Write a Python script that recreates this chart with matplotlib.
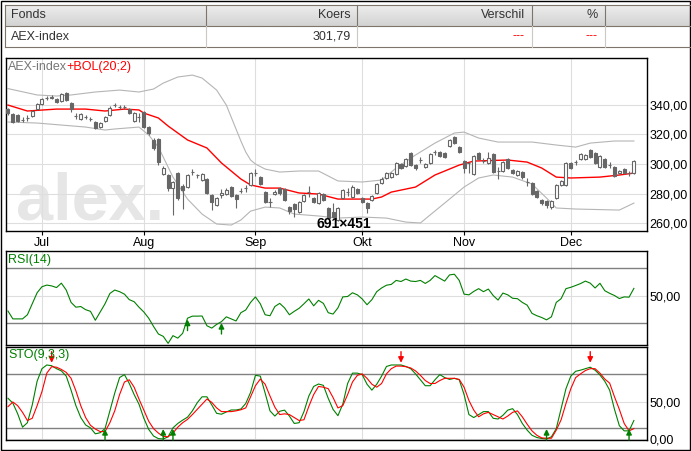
import matplotlib
matplotlib.use('Agg')
import matplotlib.pyplot as plt
import numpy as np
from matplotlib.colors import LinearSegmentedColormap
from matplotlib.patches import Rectangle
from matplotlib.ticker import FuncFormatter

plt.rcParams['font.family'] = ['Liberation Sans', 'DejaVu Sans']

# koersdata AEX-index (dagkaarsen)
opens = [337.0, 333.7, 333.0, 329.8, 330.8, 332.3, 337.0, 340.4, 344.2, 344.8,
         343.8, 342.5, 347.8, 341.1, 332.5, 330.3, 331.4, 330.5, 328.3, 324.9,
         329.0, 333.0, 339.7, 338.4, 338.6, 337.0, 329.0, 331.4, 335.0, 324.9,
         316.2, 316.8, 293.3, 292.6, 283.8, 293.9, 285.2, 284.5, 294.6, 292.6,
         289.2, 289.9, 279.1, 272.4, 279.1, 279.8, 284.5, 279.1, 281.8, 283.8,
         285.9, 293.9, 291.2, 281.1, 274.6, 279.8, 283.8, 283.2, 271.0, 273.1,
         267.7, 275.1, 281.1, 277.1, 273.7, 279.8, 270.4, 267.7, 262.3, 277.1,
         281.1, 277.8, 283.2, 277.1, 273.7, 275.8, 280.5, 287.2, 290.6, 291.2,
         293.3, 300.0, 298.7, 307.4, 299.3, 302.7, 298.0, 300.7, 308.1, 308.1,
         307.4, 312.1, 318.2, 311.4, 302.0, 300.7, 293.3, 307.4, 302.0, 300.7,
         306.7, 295.3, 295.3, 303.4, 296.0, 292.6, 294.6, 287.9, 287.2, 281.8,
         275.8, 275.1, 271.0, 277.1, 285.9, 285.9, 300.7, 301.3, 303.4, 303.4,
         309.4, 307.4, 298.0, 303.4, 299.3, 298.0, 293.9, 296.6, 294.1, 293.9]
closes = [334.3, 328.6, 329.0, 329.5, 331.1, 335.7, 340.4, 343.8, 344.6, 345.1,
          341.8, 347.1, 343.1, 337.0, 332.3, 333.7, 331.6, 330.3, 324.2, 327.6,
          331.6, 337.7, 339.9, 338.6, 338.2, 334.3, 334.3, 331.8, 324.9, 320.9,
          310.8, 301.3, 297.3, 283.8, 287.9, 277.1, 282.5, 292.6, 294.8, 292.8,
          293.3, 280.5, 274.4, 277.1, 280.5, 282.5, 278.5, 276.4, 281.6, 284.0,
          293.9, 294.1, 286.5, 274.4, 274.4, 281.1, 280.5, 275.8, 268.3, 269.7,
          274.4, 279.1, 281.3, 274.4, 280.5, 275.8, 263.6, 264.3, 270.4, 282.5,
          281.3, 284.5, 280.5, 274.4, 270.4, 278.5, 286.5, 289.9, 293.9, 293.9,
          300.7, 297.3, 303.4, 299.3, 297.3, 302.9, 300.0, 306.7, 308.3, 305.4,
          304.7, 316.2, 314.1, 308.1, 297.3, 300.5, 305.4, 303.4, 302.2, 304.0,
          294.6, 295.5, 301.3, 297.3, 293.9, 295.3, 291.2, 287.7, 279.8, 277.8,
          273.7, 272.4, 275.1, 285.9, 288.6, 300.7, 297.3, 301.5, 306.7, 306.1,
          304.7, 300.7, 305.4, 298.0, 299.1, 291.9, 295.3, 293.9, 293.9, 301.8]
highs = [337.7, 334.5, 334.0, 331.6, 333.0, 336.5, 341.1, 344.6, 345.8, 346.5,
         344.8, 347.8, 348.4, 341.8, 334.3, 334.5, 333.0, 331.6, 329.0, 328.3,
         332.3, 339.1, 341.1, 339.7, 339.7, 337.7, 335.0, 334.3, 336.0, 325.6,
         317.5, 317.5, 298.7, 293.3, 288.6, 294.6, 286.5, 293.3, 296.6, 293.3,
         294.0, 290.6, 279.8, 277.8, 283.2, 283.8, 285.2, 279.8, 283.8, 285.9,
         294.6, 296.6, 291.9, 281.8, 277.1, 282.5, 284.5, 283.8, 271.7, 273.7,
         275.1, 279.8, 285.2, 277.8, 281.1, 280.5, 271.0, 273.7, 271.0, 283.2,
         283.8, 285.9, 283.8, 277.8, 274.4, 279.1, 287.2, 291.2, 294.6, 294.6,
         301.3, 300.7, 304.0, 308.1, 300.0, 304.7, 300.7, 307.4, 309.4, 308.8,
         308.1, 316.8, 318.8, 312.1, 302.7, 301.3, 306.1, 308.1, 304.0, 308.1,
         307.4, 298.0, 302.0, 304.0, 296.6, 296.0, 295.3, 290.6, 287.9, 282.5,
         276.4, 275.8, 275.8, 286.5, 289.2, 301.3, 301.3, 302.7, 307.4, 306.7,
         310.1, 308.1, 306.1, 304.0, 301.3, 298.7, 296.0, 297.3, 295.3, 302.7]
lows = [333.0, 327.5, 328.0, 328.3, 329.0, 331.5, 336.4, 339.5, 343.1, 343.8,
        341.1, 341.8, 342.5, 335.0, 330.3, 329.6, 330.3, 329.0, 323.5, 324.2,
        328.3, 332.3, 338.4, 337.0, 337.0, 333.7, 328.3, 328.3, 324.2, 319.5,
        309.4, 299.3, 292.6, 282.0, 265.7, 275.8, 269.7, 283.8, 292.6, 290.6,
        288.6, 279.8, 269.0, 271.7, 277.1, 279.1, 277.8, 270.4, 280.5, 281.1,
        285.2, 291.9, 285.9, 273.7, 271.0, 279.1, 279.1, 275.1, 266.3, 264.3,
        267.0, 274.4, 277.8, 273.7, 273.1, 275.1, 262.9, 263.6, 261.6, 276.4,
        278.5, 277.1, 279.8, 273.7, 267.0, 275.1, 279.8, 286.5, 289.9, 290.6,
        292.6, 296.6, 298.0, 298.7, 296.0, 300.7, 297.3, 300.0, 306.1, 304.7,
        304.0, 311.4, 313.4, 307.4, 293.9, 293.9, 292.6, 302.7, 300.7, 300.0,
        294.0, 289.9, 294.6, 296.6, 293.3, 291.9, 289.9, 285.2, 279.1, 277.1,
        272.4, 270.4, 269.7, 276.4, 285.2, 285.2, 296.6, 299.3, 302.7, 302.7,
        304.0, 300.0, 297.3, 297.3, 297.3, 291.2, 293.3, 293.3, 291.9, 293.3]

bol_mid_days = [0, 4, 10, 16, 20, 24, 27, 28, 31, 33, 37, 41, 44, 48, 50, 53, 56, 60,
                64, 68, 75, 77, 79, 84, 88, 93, 96, 103, 107, 110, 113, 116, 122, 126, 129]
bol_mid = [339.7, 335.7, 337.0, 337.0, 335.7, 337.0, 336.4, 334.3, 331.0, 325.6,
           316.2, 310.8, 300.7, 289.9, 285.9, 283.8, 283.8, 280.5, 279.8, 276.4,
           276.4, 277.8, 281.1, 284.5, 292.6, 299.3, 302.0, 302.7, 301.3, 297.3,
           291.2, 290.6, 291.2, 292.6, 293.9]
bol_up_days = [0, 6, 10, 13, 18, 23, 27, 30, 32, 35, 38, 40, 43, 45, 46, 48, 49, 50, 51,
               53, 56, 60, 64, 68, 73, 77, 80, 84, 88, 92, 94, 97, 101, 108, 113, 117,
               120, 125, 129]
bol_upper = [350.8, 346.5, 345.8, 346.5, 348.5, 349.8, 348.5, 350.5, 354.5, 358.6,
             359.9, 357.9, 349.8, 339.7, 331.6, 315.5, 308.1, 302.7, 300.0, 296.6,
             294.6, 295.3, 295.3, 288.6, 287.9, 289.2, 297.3, 306.1, 314.1, 320.9,
             321.5, 317.5, 314.8, 314.8, 312.8, 311.4, 314.1, 315.5, 315.5]
bol_lo_days = [0, 6, 16, 20, 22, 27, 29, 31, 34, 37, 40, 43, 46, 48, 50, 53, 56, 59,
               64, 68, 73, 78, 82, 85, 87, 90, 94, 97, 100, 104, 108, 111, 113, 117, 126, 129]
bol_lower = [328.3, 327.6, 324.9, 322.9, 323.6, 324.9, 319.5, 311.4, 291.2, 276.4,
             266.3, 259.6, 258.9, 262.3, 268.3, 271.0, 270.4, 266.3, 265.0, 263.6,
             264.3, 263.6, 260.9, 260.3, 265.7, 273.7, 284.5, 290.6, 292.6, 291.2,
             286.5, 277.1, 270.4, 269.7, 269.0, 273.7]

rsi = [38.7, 33.0, 33.0, 33.0, 36.0, 44.0, 52.0, 56.4, 57.6, 57.0,
       55.8, 59.0, 54.0, 45.0, 41.5, 42.0, 39.7, 38.5, 32.0, 38.0,
       44.0, 51.5, 54.0, 52.8, 51.0, 47.0, 45.5, 41.5, 38.0, 33.5,
       27.5, 22.0, 20.3, 15.2, 20.8, 19.0, 22.5, 33.5, 35.0, 35.0,
       35.1, 28.0, 26.3, 29.0, 31.0, 34.5, 33.0, 31.5, 37.5, 39.5,
       45.0, 49.0, 44.0, 36.0, 35.3, 42.0, 44.3, 41.0, 36.0, 38.5,
       40.7, 44.0, 47.5, 42.5, 46.5, 44.3, 37.5, 36.5, 41.0, 49.0,
       49.3, 52.0, 50.5, 47.5, 43.3, 47.0, 52.8, 55.5, 57.5, 58.1,
       61.0, 60.2, 62.0, 60.5, 60.2, 61.0, 58.8, 61.0, 64.5, 62.5,
       60.5, 65.0, 65.5, 61.0, 51.0, 50.5, 53.0, 55.0, 52.8, 54.7,
       50.0, 46.7, 51.8, 50.5, 48.0, 47.7, 45.0, 43.0, 37.0, 35.3,
       34.0, 32.3, 34.5, 45.0, 47.7, 55.0, 56.0, 57.3, 58.7, 60.5,
       59.0, 55.5, 58.9, 53.5, 51.6, 50.0, 47.8, 49.0, 48.8, 55.2]

sto_k = [55, 48.5, 34, 16, 22, 46, 78, 95, 100, 99,
         95, 92, 85, 66, 45, 29, 19, 15, 7, 8.5,
         14, 38, 62, 83, 87, 75, 60, 47, 28, 13,
         4, 0.5, 0, 3, 15, 21, 25.5, 29.5, 38, 49,
         57, 57, 46, 34.7, 33.5, 36.5, 39.2, 39.2, 40.5, 48,
         63, 86, 85, 62, 38, 31, 37.5, 39, 31, 21,
         22, 37, 58, 71, 74.3, 72.5, 55, 40, 31.5, 47,
         75, 89, 89, 87, 74, 66, 74, 85, 98, 100,
         100, 100, 98, 95, 88, 80, 72, 72, 80, 87,
         83, 80.5, 82, 80, 60, 33, 29, 33, 37, 37,
         28, 27, 32, 39, 41, 33, 21, 12, 5, 2,
         0.7, 0, 3, 14, 41, 68, 85, 91.5, 93, 95,
         97, 93, 86.5, 78, 66, 40, 18, 11, 11, 25]
sto_d = [43.7, 50, 45, 36, 25, 28, 45, 64, 89, 97.7,
         97, 94, 90, 82, 65, 45, 29, 18.5, 13.5, 10,
         10, 22, 38, 60, 77, 80, 70, 54, 39, 24,
         14, 8, 3.5, 3, 8, 16, 22, 26.5, 33, 40,
         47, 54, 49.5, 42, 37, 37, 37, 38, 39.5, 42,
         57, 72, 81, 74, 58, 43, 33, 34, 33, 29,
         25, 26, 44, 60, 71, 70, 68, 56, 42, 45,
         60, 77, 86, 88, 82, 74, 70, 75, 88, 95,
         98.5, 98.5, 97.7, 96, 92, 86, 79, 75, 75, 79,
         82, 82, 82, 80.5, 70, 52, 39, 30, 34, 36,
         33, 30, 27, 31, 36, 38, 30, 20, 11, 5,
         1.5, 1, 1, 12, 26, 48, 68, 83, 88, 92.5,
         95, 95, 89, 81, 75.5, 57, 40, 21, 11, 14]

rsi_buy_days = [37, 44]
sto_buy_days = [20, 32, 34, 111, 128]
sto_sell_days = [9, 81, 120]

month_days = [7, 28, 51, 73, 94, 116]
month_labels = ['Jul', 'Aug', 'Sep', 'Okt', 'Nov', 'Dec']
price_ticks = [260, 280, 300, 320, 340]

table_head = ['Fonds', 'Koers', 'Verschil', '%']
table_row = ['AEX-index', '301,79', '---', '---']

# ---- opmaak ----
W, H = 691, 451
GRID = '#dedede'
CANDLE = '#666666'
GREEN = '#008000'
LEVEL = '#808080'
fsize = 9


def px_box(x0, y0, x1, y1):
    return [x0 / W, 1 - y1 / H, (x1 - x0) / W, (y1 - y0) / H]


def comma_fmt(v, pos=None):
    return f'{v:.2f}'.replace('.', ',')


fig = plt.figure(figsize=(W / 100, H / 100), dpi=100)
fig.patch.set_facecolor('white')

# tabel bovenaan en rand, in pixelcoordinaten
bg = fig.add_axes([0, 0, 1, 1], zorder=-1)
hdr_cmap = LinearSegmentedColormap.from_list('hdr', ['#ededed', '#d3d3d3'])
bg.imshow(np.linspace(0, 1, 20)[:, None], cmap=hdr_cmap, extent=[5, 690, 26, 5], aspect='auto')
bg.set_xlim(0, W)
bg.set_ylim(H, 0)
bg.axis('off')
dark_line = '#7d746c'
light_line = '#cdc8c4'
for yy in (5, 26, 47):
    bg.plot([5, 690], [yy, yy], color=dark_line, lw=0.8)
bg.plot([5, 5], [5, 47], color=dark_line, lw=0.8)
col_edges = [206, 357, 532, 605]
for xx in col_edges:
    bg.plot([xx, xx], [5, 26], color=dark_line, lw=0.8)
    bg.plot([xx, xx], [26, 47], color=light_line, lw=0.8)
text_x = [11, 351, 525, 598]
aligns = ['left', 'right', 'right', 'right']
for k in range(4):
    bg.text(text_x[k], 15.5, table_head[k], ha=aligns[k], va='center', fontsize=9, color='#333333')
    col = '#ff0000' if table_row[k] == '---' else '#333333'
    bg.text(text_x[k], 36.5, table_row[k], ha=aligns[k], va='center', fontsize=9, color=col)
bg.add_patch(Rectangle((0.5, 0.5), W - 1.5, H - 1.5, fill=False, ec='black', lw=1.0))

ax_p = fig.add_axes(px_box(6, 58, 647, 231))
ax_r = fig.add_axes(px_box(6, 251, 647, 345))
ax_s = fig.add_axes(px_box(6, 347, 647, 440))

days = np.arange(len(closes))
x_lo, x_hi = -0.41, 131.7

for ax in (ax_p, ax_r, ax_s):
    ax.set_xlim(x_lo, x_hi)
    ax.set_xticks(month_days)
    ax.set_axisbelow(True)
    ax.grid(True, color=GRID, lw=0.8)
    for sp in ax.spines.values():
        sp.set_color('black')
        sp.set_linewidth(1.0)
    ax.yaxis.tick_right()
    ax.tick_params(axis='y', length=0, pad=2, labelsize=fsize)

# koersgrafiek
o = np.array(opens)
c = np.array(closes)
up = c >= o
ax_p.vlines(days, lows, highs, color=CANDLE, lw=0.8, zorder=2)
ax_p.bar(days[up], np.maximum(c - o, 0.15)[up], bottom=o[up], width=0.62,
         facecolor='white', edgecolor=CANDLE, lw=0.8, zorder=3)
ax_p.bar(days[~up], np.maximum(o - c, 0.15)[~up], bottom=c[~up], width=0.62,
         facecolor=CANDLE, edgecolor=CANDLE, lw=0.8, zorder=3)
ax_p.plot(bol_up_days, bol_upper, color='#b5b5b5', lw=0.8, zorder=1)
ax_p.plot(bol_lo_days, bol_lower, color='#b5b5b5', lw=0.8, zorder=1)
ax_p.plot(bol_mid_days, bol_mid, color='#ff0000', lw=1.0, zorder=1.5)
ax_p.set_ylim(254.9, 371.4)
ax_p.set_yticks(price_ticks)
ax_p.yaxis.set_major_formatter(FuncFormatter(comma_fmt))
ax_p.set_xticklabels(month_labels)
ax_p.tick_params(axis='x', length=3, width=0.8, pad=1, labelsize=fsize)
ax_p.text(0.0156, 0.0636, 'alex.', transform=ax_p.transAxes, fontsize=48,
          fontweight='bold', color='#e6e6e6', ha='left', va='baseline', zorder=0.1)
t1 = ax_p.text(0.003, 0.948, 'AEX-index', transform=ax_p.transAxes, fontsize=fsize,
               color='#777777', ha='left', va='center', zorder=5)
ax_p.annotate('+BOL(20;2)', xy=(1, 0.5), xycoords=t1, xytext=(-0.5, 0),
              textcoords='offset points', fontsize=fsize,
              color='#ff0000', ha='left', va='center', zorder=5)

# RSI
ax_r.plot(days, rsi, color=GREEN, lw=0.8, zorder=3)
ax_r.axhline(70, color=LEVEL, lw=1.0, zorder=2)
ax_r.axhline(30, color=LEVEL, lw=1.0, zorder=2)
ax_r.set_ylim(14.0, 82.4)
ax_r.set_yticks([50])
ax_r.yaxis.set_major_formatter(FuncFormatter(comma_fmt))
ax_r.tick_params(axis='x', length=0, labelbottom=False)
ax_r.text(0.003, 0.904, 'RSI(14)', transform=ax_r.transAxes, fontsize=fsize,
          color=GREEN, ha='left', va='center')
for d in rsi_buy_days:
    ax_r.annotate('', xy=(d, rsi[d] - 1), xytext=(d, rsi[d] - 9),
                  arrowprops=dict(arrowstyle='-|>', color=GREEN, lw=1.0,
                                  mutation_scale=8, shrinkA=0, shrinkB=0), zorder=4)

# Stochastic
ax_s.plot(days, sto_k, color=GREEN, lw=0.8, zorder=3)
ax_s.plot(days, sto_d, color='#ff0000', lw=0.8, zorder=3)
ax_s.axhline(88, color=LEVEL, lw=1.0, zorder=2)
ax_s.axhline(15, color=LEVEL, lw=1.0, zorder=2)
ax_s.set_ylim(-1.35, 124.3)
ax_s.set_yticks([0, 50])
ax_s.yaxis.set_major_formatter(FuncFormatter(comma_fmt))
ax_s.tick_params(axis='x', length=0, labelbottom=False)
ax_s.text(0.003, 0.914, 'STO(9,3,3)', transform=ax_s.transAxes, fontsize=fsize,
          color=GREEN, ha='left', va='center', zorder=5)
for d in sto_buy_days:
    ax_s.annotate('', xy=(d, 13.5), xytext=(d, -1.3),
                  arrowprops=dict(arrowstyle='-|>', color=GREEN, lw=1.0,
                                  mutation_scale=8, shrinkA=0, shrinkB=0), zorder=4)
for d in sto_sell_days:
    ax_s.annotate('', xy=(d, 103), xytext=(d, 118),
                  arrowprops=dict(arrowstyle='-|>', color='#ff0000', lw=1.0,
                                  mutation_scale=8, shrinkA=0, shrinkB=0), zorder=4)

fig.text(344 / W, 1 - 224 / H, '691×451', ha='center', va='center',
         fontsize=10, fontweight='bold', color='black')

fig.savefig('out.png', dpi=100)
